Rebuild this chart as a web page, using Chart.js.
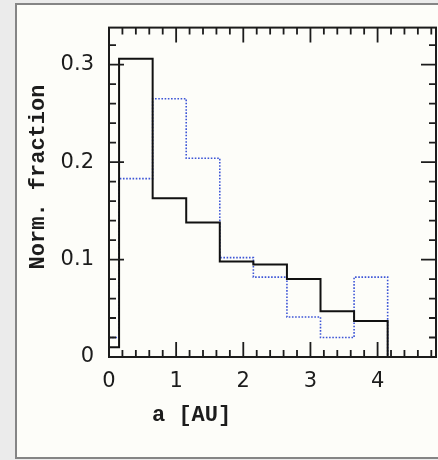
<!DOCTYPE html>
<html>
<head>
<meta charset="utf-8">
<script src="https://cdn.jsdelivr.net/npm/chart.js@4"></script>
<style>
    html, body { margin: 0; padding: 0; background: #ebebeb; }
    #panel {
        position: absolute; left: 15px; top: 3px; width: 440px; height: 452px;
        background: #fdfdf9; border: 2px solid #858585;
    }
    #wrap { position: absolute; left: 0; top: 0; width: 438px; height: 460px; }
</style>
</head>
<body>
<div id="panel"></div>
<div id="wrap"><canvas id="histChart" width="438" height="460"></canvas></div>
<script>
// Histogram bin edges (AU) and normalised fractions per bin
const binEdges = [0, 0.15, 0.65, 1.15, 1.65, 2.15, 2.65, 3.15, 3.65, 4.15];
const solidFrac = [0.010, 0.306, 0.163, 0.138, 0.098, 0.095, 0.080, 0.047, 0.037];
const dottedFrac = [0.020, 0.183, 0.265, 0.204, 0.102, 0.082, 0.041, 0.020, 0.082];

const xTickValues = [0, 1, 2, 3, 4];
const yTickValues = [0, 0.1, 0.2, 0.3];

function stepPoints(values) {
    const pts = values.map((v, i) => ({ x: binEdges[i], y: v }));
    pts.push({ x: binEdges[binEdges.length - 1], y: 0 });
    return pts;
}

// frame, inward ticks on all four sides, axis titles
const framePlugin = {
    id: 'frame',
    afterDraw(chart) {
        const ctx = chart.ctx;
        const area = chart.chartArea;
        const xs = chart.scales.x;
        const ys = chart.scales.y;
        ctx.save();
        ctx.strokeStyle = '#1c1c1c';
        ctx.lineWidth = 2;
        ctx.strokeRect(area.left, area.top, area.right - area.left, area.bottom - area.top);

        ctx.lineWidth = 1.8;
        ctx.beginPath();
        for (let i = 0; i * 0.2 <= xs.max + 1e-9; i++) {
            const px = xs.getPixelForValue(i * 0.2);
            const len = i % 5 === 0 ? 15 : 7;
            ctx.moveTo(px, area.bottom); ctx.lineTo(px, area.bottom - len);
            ctx.moveTo(px, area.top); ctx.lineTo(px, area.top + len);
        }
        for (let i = 0; i * 0.02 <= ys.max + 1e-9; i++) {
            const py = ys.getPixelForValue(i * 0.02);
            const len = i % 5 === 0 ? 15 : 7;
            ctx.moveTo(area.left, py); ctx.lineTo(area.left + len, py);
            ctx.moveTo(area.right, py); ctx.lineTo(area.right - len, py);
        }
        ctx.stroke();

        ctx.fillStyle = '#1c1c1c';
        ctx.font = 'bold 22px "Liberation Mono"';
        ctx.textAlign = 'left';
        ctx.textBaseline = 'alphabetic';
        ctx.fillText('a [AU]', 152, 421);

        ctx.translate(44, 177);
        ctx.rotate(-Math.PI / 2);
        ctx.textAlign = 'center';
        ctx.fillText('Norm. fraction', 0, 0);
        ctx.restore();
    }
};

const ctx = document.getElementById('histChart').getContext('2d');
new Chart(ctx, {
    type: 'line',
    data: {
        datasets: [{
            label: 'solid',
            data: stepPoints(solidFrac),
            borderColor: '#111111',
            borderWidth: 2,
            stepped: 'before',
            pointRadius: 0,
            fill: false,
            order: 0
        }, {
            label: 'dotted',
            data: stepPoints(dottedFrac),
            borderColor: '#3d55d6',
            borderWidth: 1.6,
            borderDash: [1.6, 1.6],
            stepped: 'before',
            pointRadius: 0,
            fill: false,
            order: 1
        }]
    },
    options: {
        responsive: false,
        animation: false,
        layout: { padding: { left: 0, top: 9, right: 2, bottom: 0 } },
        plugins: {
            legend: { display: false },
            tooltip: { enabled: false }
        },
        scales: {
            x: {
                type: 'linear',
                min: 0,
                max: 4.87,
                afterFit: (scale) => { scale.height = 103; },
                afterBuildTicks: (scale) => { scale.ticks = xTickValues.map(v => ({ value: v })); },
                grid: { display: false, drawTicks: false },
                border: { display: false },
                ticks: {
                    padding: 12,
                    color: '#1c1c1c',
                    font: { family: 'DejaVu Sans', size: 21 },
                    callback: (v) => String(v)
                }
            },
            y: {
                min: 0,
                max: 0.338,
                afterFit: (scale) => { scale.width = 109; },
                afterBuildTicks: (scale) => { scale.ticks = yTickValues.map(v => ({ value: v })); },
                grid: { display: false, drawTicks: false },
                border: { display: false },
                ticks: {
                    padding: 15,
                    color: '#1c1c1c',
                    font: { family: 'DejaVu Sans', size: 21 },
                    callback: (v) => v === 0 ? '0' : v.toFixed(1)
                }
            }
        }
    },
    plugins: [framePlugin]
});
</script>
</body>
</html>
